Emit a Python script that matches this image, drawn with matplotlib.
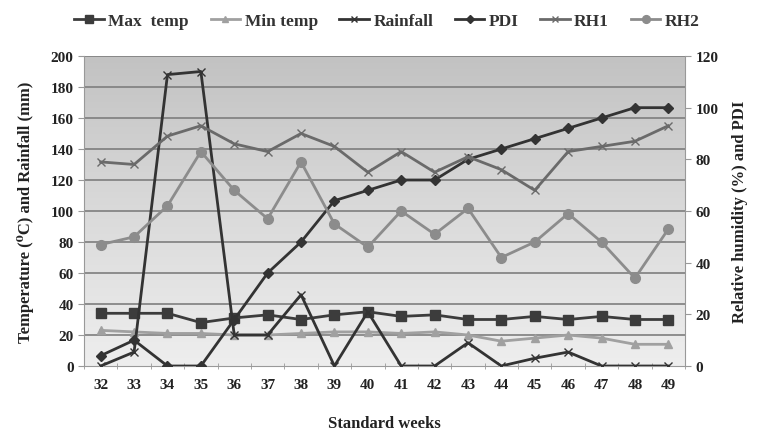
import numpy as np
import matplotlib
matplotlib.use("Agg")
import matplotlib.pyplot as plt
from matplotlib.ticker import FixedLocator
from matplotlib.colors import LinearSegmentedColormap

weeks = [32, 33, 34, 35, 36, 37, 38, 39, 40, 41, 42, 43, 44, 45, 46, 47, 48, 49]
max_temp = [34, 34, 34, 28, 31, 33, 30, 33, 35, 32, 33, 30, 30, 32, 30, 32, 30, 30]
min_temp = [23, 22, 21, 21, 20, 20, 21, 22, 22, 21, 22, 20, 16, 18, 20, 18, 14, 14]
rainfall = [0, 9, 188, 190, 20, 20, 46, 0, 35, 0, 0, 15, 0, 5, 9, 0, 0, 0]
pdi = [4, 10, 0, 0, 18, 36, 48, 64, 68, 72, 72, 80, 84, 88, 92, 96, 100, 100]
rh1 = [79, 78, 89, 93, 86, 83, 90, 85, 75, 83, 75, 81, 76, 68, 83, 85, 87, 93]
rh2 = [47, 50, 62, 83, 68, 57, 79, 55, 46, 60, 51, 61, 42, 48, 59, 48, 34, 53]

left_ticks = list(range(0, 201, 20))
right_ticks = list(range(0, 121, 20))

plt.rcParams['font.family'] = ['Liberation Serif', 'DejaVu Serif']

fig = plt.figure(figsize=(7.59, 4.35), dpi=100)
ax = fig.add_axes([84/759, 1-367/435, (685-84)/759, (367-57)/435])
ax2 = ax.twinx()

x = np.arange(len(weeks))
ax.set_xlim(-0.5, len(weeks) - 0.5)
ax.set_ylim(0, 200)
ax2.set_ylim(0, 120)

# gradient background
grad = np.linspace(0, 1, 256).reshape(-1, 1)
cmap = LinearSegmentedColormap.from_list('bg', ['#eeeeee', '#dadada', '#c2c2c2'])
ax.imshow(grad, extent=[-0.5, len(weeks) - 0.5, 0, 200], aspect='auto',
          origin='lower', cmap=cmap, zorder=0)

for t in left_ticks[1:]:
    ax.axhline(t, color='#7e7e7e', lw=1.2, zorder=1)

l1, = ax.plot(x, max_temp, color='#3c3c3c', lw=2, marker='s', ms=7, label='Max  temp', zorder=3)
l2, = ax.plot(x, min_temp, color='#a0a0a0', lw=2, marker='^', ms=6, label='Min temp', zorder=3)
l3, = ax.plot(x, rainfall, color='#333333', lw=2, marker='x', ms=6, mew=1, label='Rainfall', zorder=3)
l4, = ax2.plot(x, pdi, color='#333333', lw=2, marker='D', ms=5, label='PDI', zorder=3)
l5, = ax2.plot(x, rh1, color='#6a6a6a', lw=2, marker='x', ms=6, mew=1, label='RH1', zorder=3)
l6, = ax2.plot(x, rh2, color='#8c8c8c', lw=2, marker='o', ms=7, label='RH2', zorder=3)

ax.set_xticks(x)
ax.set_xticklabels([str(w) for w in weeks])
ax.xaxis.set_minor_locator(FixedLocator(np.arange(-0.5, len(weeks), 1)))
ax.tick_params(axis='x', which='major', length=0, pad=9, labelsize=11)
ax.tick_params(axis='x', which='minor', length=4, direction='inout', color='#999999')
ax.set_yticks(left_ticks)
ax.tick_params(axis='y', length=4, color='#999999', labelsize=11)
ax2.set_yticks(right_ticks)
ax2.tick_params(axis='y', length=4, color='#999999', labelsize=11)

for a in (ax, ax2):
    for lab in a.get_xticklabels() + a.get_yticklabels():
        lab.set_fontweight('bold')
        lab.set_color('#222222')
    for s in a.spines.values():
        s.set_visible(False)
ax.spines['left'].set_visible(True)
ax.spines['left'].set_color('#999999')
ax.spines['bottom'].set_visible(True)
ax.spines['bottom'].set_color('#999999')
ax2.spines['right'].set_visible(True)
ax2.spines['right'].set_color('#999999')

ax.set_ylabel('Temperature (\u2070C) and Rainfall (mm)', fontsize=12,
              fontweight='bold', color='#222222', labelpad=12)
ax2.set_ylabel('Relative humidity (%) and PDI', fontsize=12, fontweight='bold',
               color='#222222', labelpad=10)
ax.set_xlabel('Standard weeks', fontsize=12, fontweight='bold', color='#222222', labelpad=17)

leg = fig.legend(handles=[l1, l2, l3, l4, l5, l6], loc='center', bbox_to_anchor=(387/759, 1-22/435),
                 ncol=6, frameon=False, handlelength=1.7, handletextpad=0.25,
                 columnspacing=1.25, markerscale=0.8, prop={'weight': 'bold', 'size': 12.5})
for t in leg.get_texts():
    t.set_color('#333333')

fig.savefig('out.png', dpi=100)
